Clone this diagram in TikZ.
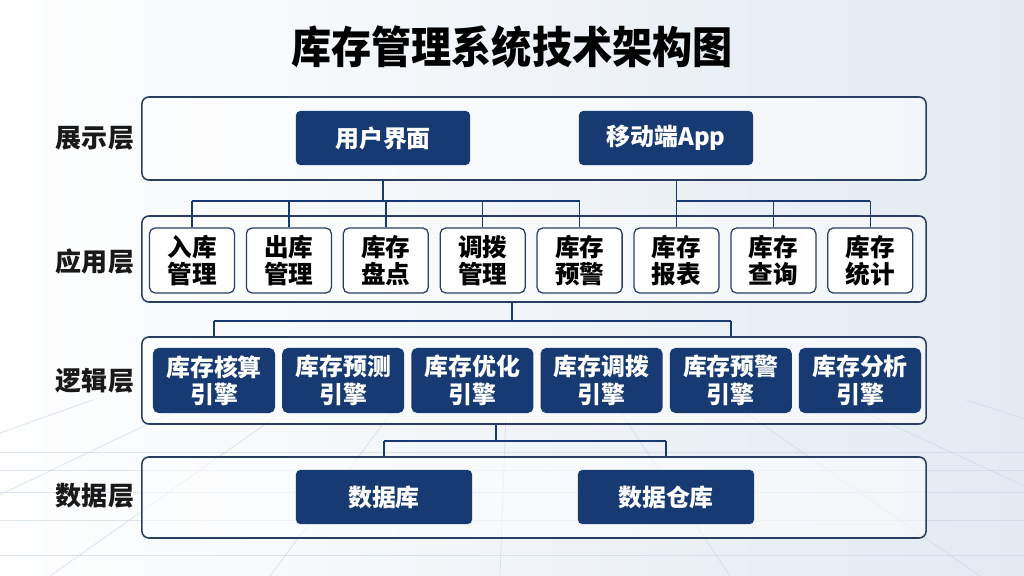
\documentclass[tikz,border=0pt]{standalone}
\usepackage{fontspec}
\setmainfont{Noto Sans CJK SC}
\newfontfamily\titlefont{Noto Sans CJK SC}[FakeStretch=0.92]
\definecolor{navy}{HTML}{173A72}
\definecolor{frame}{HTML}{2A3E62}
\definecolor{bgright}{HTML}{E3EAF2}
\definecolor{tile}{HTML}{C9D6E6}
\tikzset{
  layer/.style={draw=frame, line width=1.1pt, rounded corners=5pt, fill=white, fill opacity=0.55, text opacity=1, minimum width=19.6cm, inner sep=0pt},
  navybox/.style={fill=navy, rounded corners=3pt, text=white, align=center, inner sep=0pt, font=\bfseries\fontsize{17}{19.5}\selectfont},
  appbox/.style={draw=frame, line width=0.9pt, fill=white, rounded corners=4pt, align=center, inner sep=0pt, minimum width=2.125cm, minimum height=1.625cm, font=\bfseries\fontsize{17.5}{19.5}\selectfont},
  layername/.style={font=\bfseries\fontsize{18.5}{20}\selectfont, text=black!90},
  link/.style={draw=navy, line width=1pt}
}
\begin{document}
\begin{tikzpicture}[x=0.025cm, y=-0.025cm]
  \useasboundingbox (0,0) rectangle (1024,576);
  \shade[left color=white!97!bgright, right color=bgright] (0,0) rectangle (1024,576);
  \begin{scope}
    \clip (0,400) rectangle (1024,576);
    \foreach \t in {-900,-640,-400,-170,50,270,500,730,980,1220,1500,1800}
      \draw[tile, line width=0.6pt, opacity=0.6] (512,250) -- (\t,576);
    \foreach \h in {452,470,492,520,555}
      \draw[tile, line width=0.6pt, opacity=0.6] (0,\h) -- (1024,\h);
  \end{scope}

  \node[font=\titlefont\bfseries\fontsize{31}{34}\selectfont] (title) at (512,47) {库存管理系统技术架构图};

  % layers
  \node[layer, minimum height=2.075cm] (show) at (534,138.5) {};
  \node[layer, minimum height=2.15cm] (apps) at (534,259) {};
  \node[layer, minimum height=2.175cm] (logic) at (534,380.5) {};
  \node[layer, minimum height=2.025cm] (data) at (534,497.5) {};
  \node[layername] (showname) at (95,138) {展示层};
  \node[layername] (appsname) at (95,262) {应用层};
  \node[layername] (logicname) at (95,381) {逻辑层};
  \node[layername] (dataname) at (95,496) {数据层};

  \node[navybox, minimum width=4.35cm, minimum height=1.35cm] (ui) at (383,138) {用户界面};
  \node[navybox, minimum width=4.35cm, minimum height=1.35cm] (mobile) at (666,138) {移动端App};

  \foreach \i/\txt in {1/入库\\管理, 2/出库\\管理, 3/库存\\盘点, 4/调拨\\管理,
                       5/库存\\预警, 6/库存\\报表, 7/库存\\查询, 8/库存\\统计}
    \node[appbox] (app\i) at ({192+96.9*(\i-1)},260.5) {\txt};

  \foreach \i/\txt in {1/库存核算, 2/库存预测, 3/库存优化, 4/库存调拨, 5/库存预警, 6/库存分析}
    \node[navybox, minimum width=3.05cm, minimum height=1.625cm, rounded corners=4pt] (eng\i) at ({214+129.2*(\i-1)},380.5) {\txt\\引擎};

  \node[navybox, minimum width=4.4cm, minimum height=1.35cm] (db) at (384,497) {数据库};
  \node[navybox, minimum width=4.4cm, minimum height=1.35cm] (dw) at (666,497) {数据仓库};

  % connectors
  \coordinate (busA) at (385,201);
  \coordinate (busB) at (512,321);
  \coordinate (busC) at (496,441);
  \draw[link] (ui |- show.south) -- (ui |- busA);
  \draw[link] (app6 |- show.south) -- (app6 |- busA);
  \draw[link] (app1 |- busA) -- (app5 |- busA);
  \draw[link] (app6 |- busA) -- (app8 |- busA);
  \foreach \i in {1,...,8}
    \draw[link] (app\i |- busA) -- (app\i.north);
  \draw[link] (busB |- apps.south) -- (busB);
  \draw[link] (eng1 |- busB) -- (eng5 |- busB);
  \draw[link] (eng1 |- busB) -- (eng1 |- logic.north);
  \draw[link] (eng5 |- busB) -- (eng5 |- logic.north);
  \draw[link] (busC |- logic.south) -- (busC);
  \draw[link] (db |- busC) -- (dw |- busC);
  \draw[link] (db |- busC) -- (db |- data.north);
  \draw[link] (dw |- busC) -- (dw |- data.north);
\end{tikzpicture}
\end{document}
